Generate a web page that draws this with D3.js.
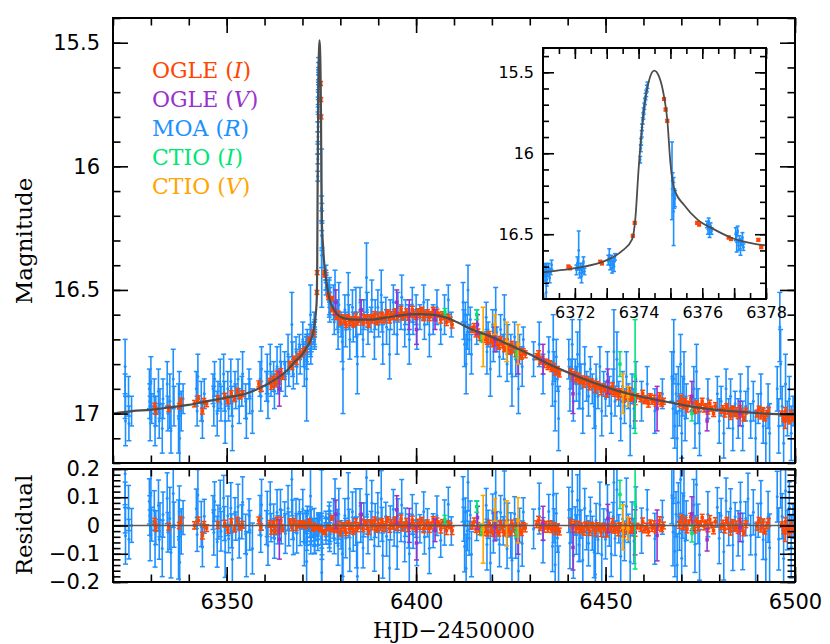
<!DOCTYPE html>
<html>
<head>
<meta charset="utf-8">
<script src="https://cdn.jsdelivr.net/npm/d3@7"></script>
<style>
body { margin: 0; background: white; }
</style>
</head>
<body>
<div id="canvas"></div>
<script>
const width = 830;
const height = 644;

// best-fit model: [HJD-2450000, mag]
const modelCurve = [
    [6320, 17.00], [6325, 16.99], [6330, 16.985], [6335, 16.975], [6340, 16.965], [6345, 16.95],
    [6350, 16.935], [6355, 16.92], [6359, 16.895], [6362, 16.87], [6364, 16.85], [6366, 16.825],
    [6368, 16.79], [6370, 16.76], [6371, 16.735], [6372, 16.71], [6373, 16.66], [6373.5, 16.6],
    [6373.8, 16.53], [6373.9, 16.4], [6374.0, 16.1], [6374.07, 15.92], [6374.18, 15.71],
    [6374.33, 15.55], [6374.49, 15.49], [6374.64, 15.525], [6374.8, 15.65], [6374.9, 15.79],
    [6375.0, 16.06], [6375.12, 16.22], [6375.43, 16.32], [6375.85, 16.41], [6376.37, 16.47],
    [6376.89, 16.52], [6377.41, 16.55], [6378, 16.57], [6379, 16.595], [6381, 16.615],
    [6384, 16.62], [6388, 16.62], [6392, 16.612], [6396, 16.603], [6400, 16.598], [6404, 16.60],
    [6408, 16.612], [6411, 16.632], [6414, 16.655], [6420, 16.69], [6425, 16.725], [6430, 16.76],
    [6435, 16.80], [6441, 16.84], [6446, 16.87], [6451, 16.897], [6456, 16.92], [6462, 16.94],
    [6467, 16.955], [6474, 16.975], [6483, 16.99], [6492, 17.0], [6500, 17.005]
];

// photometry: [HJD-2450000, mag, error]
const moaR = [
    [6323.2,16.81,0.11],[6323.2,16.93,0.09],[6323.3,17.03,0.10],[6324.1,16.93,0.08],[6324.2,17.04,0.07],[6324.9,16.99,0.06],
    [6329.6,16.90,0.08],[6329.7,16.95,0.07],[6329.8,17.02,0.09],[6330.0,16.87,0.10],[6330.2,16.98,0.06],[6330.9,16.93,0.07],
    [6331.1,17.05,0.08],[6331.3,16.99,0.06],[6332.0,16.91,0.09],[6332.2,17.03,0.07],[6332.4,16.96,0.06],[6333.0,17.06,0.10],
    [6333.2,16.94,0.08],[6334.3,16.88,0.09],[6334.5,17.00,0.07],[6335.0,16.95,0.11],[6335.3,17.07,0.09],[6335.9,16.86,0.12],
    [6336.1,16.97,0.08],[6337.3,17.02,0.14],[6337.5,16.92,0.09],[6337.6,17.10,0.12],[6338.0,16.99,0.08],[6338.5,16.94,0.06],
    [6342.0,16.90,0.07],[6342.2,16.99,0.06],[6342.4,16.85,0.09],[6343.3,16.95,0.08],[6343.6,17.03,0.07],[6344.1,16.92,0.06],
    [6346.4,16.90,0.06],[6346.6,16.97,0.08],[6346.8,16.86,0.07],[6347.5,17.00,0.09],[6347.7,16.93,0.06],[6348.3,16.88,0.10],
    [6348.5,16.96,0.07],[6349.2,16.84,0.08],[6349.4,16.93,0.06],[6349.6,17.03,0.09],[6350.3,16.90,0.07],[6350.5,16.98,0.05],
    [6351.1,16.87,0.09],[6351.3,16.95,0.06],[6351.5,17.05,0.10],[6352.2,16.89,0.06],[6352.4,16.93,0.05],[6353.0,16.86,0.08],
    [6353.3,16.97,0.07],[6354.0,16.91,0.06],[6354.2,16.84,0.09],[6355.0,16.95,0.07],[6355.2,17.02,0.08],[6355.9,16.88,0.06],
    [6356.1,16.93,0.07],[6356.8,16.99,0.09],
    [6358.8,16.86,0.07],[6359.0,16.93,0.06],[6359.2,16.82,0.09],[6360.5,16.89,0.06],[6360.7,16.84,0.08],[6360.9,16.95,0.07],
    [6361.5,16.80,0.08],[6361.7,16.88,0.05],[6362.4,16.85,0.06],[6362.6,16.91,0.07],[6363.3,16.81,0.08],[6363.5,16.87,0.05],
    [6364.2,16.79,0.07],[6364.4,16.85,0.06],[6365.3,16.80,0.05],[6365.5,16.86,0.07],[6366.2,16.76,0.08],[6366.4,16.83,0.06],
    [6367.2,16.64,0.13],[6367.4,16.78,0.07],[6367.6,16.84,0.06],[6368.3,16.75,0.06],[6368.5,16.81,0.07],[6369.2,16.73,0.05],
    [6369.4,16.78,0.06],[6370.1,16.70,0.07],[6370.3,16.76,0.05],[6370.5,16.81,0.08],[6371.1,16.86,0.17],
    [6371.03,16.72,0.03],[6371.06,16.76,0.03],[6371.09,16.70,0.02],[6371.12,16.78,0.04],[6371.15,16.74,0.02],
    [6371.18,16.71,0.03],[6371.21,16.77,0.03],[6371.24,16.73,0.02],[6371.27,16.69,0.03],
    [6372.05,16.72,0.03],[6372.08,16.68,0.04],[6372.12,16.60,0.12],[6372.15,16.74,0.03],[6372.18,16.70,0.02],
    [6372.21,16.76,0.04],[6372.24,16.71,0.03],[6372.27,16.67,0.03],[6372.30,16.73,0.02],
    [6373.05,16.66,0.03],[6373.08,16.63,0.04],[6373.11,16.69,0.03],[6373.14,16.65,0.02],[6373.17,16.71,0.03],
    [6373.20,16.67,0.02],[6373.23,16.70,0.03],[6373.26,16.64,0.02],
    [6374.05,16.04,0.02],[6374.07,15.97,0.02],[6374.08,15.93,0.02],[6374.10,15.88,0.02],[6374.11,15.84,0.02],
    [6374.13,15.80,0.02],[6374.15,15.77,0.02],[6374.16,15.74,0.02],[6374.18,15.71,0.02],[6374.20,15.68,0.02],
    [6374.22,15.65,0.02],[6374.24,15.63,0.02],[6374.26,15.60,0.02],[6374.28,15.58,0.02],
    [6375.05,16.17,0.24],[6375.07,16.17,0.05],[6375.09,16.22,0.04],[6375.10,16.36,0.21],[6375.12,16.28,0.06],[6375.14,16.28,0.05],
    [6376.15,16.44,0.02],[6376.18,16.47,0.03],[6376.20,16.42,0.02],[6376.23,16.49,0.03],[6376.26,16.45,0.02],[6376.29,16.48,0.02],
    [6377.05,16.50,0.04],[6377.08,16.55,0.06],[6377.11,16.48,0.03],[6377.14,16.57,0.03],[6377.17,16.53,0.02],
    [6377.20,16.59,0.04],[6377.23,16.55,0.02],[6377.26,16.52,0.03],[6377.29,16.58,0.02],
    [6378.2,16.55,0.07],[6378.4,16.63,0.05],[6378.6,16.50,0.08],[6379.2,16.60,0.06],[6379.4,16.67,0.07],[6379.6,16.56,0.09],
    [6380.2,16.64,0.05],[6380.5,16.71,0.08],[6380.7,16.82,0.18],[6381.2,16.58,0.06],[6381.4,16.66,0.07],[6382.1,16.52,0.09],
    [6382.3,16.61,0.05],[6382.5,16.70,0.08],[6383.2,16.57,0.07],[6383.4,16.65,0.06],[6384.1,16.59,0.10],[6384.3,16.68,0.09],
    [6384.5,16.80,0.12],[6385.2,16.55,0.06],[6385.4,16.63,0.05],[6386.0,16.70,0.07],[6386.2,16.60,0.06],[6386.9,16.45,0.14],
    [6387.1,16.58,0.07],[6387.3,16.66,0.06],[6388.1,16.62,0.05],[6388.3,16.54,0.08],[6389.0,16.69,0.09],[6389.2,16.60,0.06],
    [6389.9,16.57,0.07],[6390.1,16.64,0.05],[6390.8,16.52,0.10],[6391.0,16.61,0.06],[6391.2,16.72,0.08],[6392.0,16.58,0.05],
    [6392.2,16.65,0.07],[6393.0,16.76,0.10],[6393.2,16.60,0.06],[6394.0,16.55,0.07],[6394.2,16.63,0.05],[6395.0,16.68,0.08],
    [6395.2,16.57,0.06],[6396.0,16.61,0.05],[6396.2,16.53,0.09],[6397.0,16.66,0.07],[6397.2,16.59,0.05],[6398.0,16.62,0.06],
    [6398.2,16.70,0.10],[6399.0,16.56,0.07],[6399.2,16.63,0.05],[6400.0,16.58,0.06],[6400.2,16.66,0.08],[6401.0,16.61,0.05],
    [6402.0,16.55,0.07],[6402.2,16.64,0.06],[6403.0,16.59,0.05],[6403.5,16.68,0.09],[6404.5,16.62,0.06],
    [6405.5,16.57,0.07],[6406.5,16.66,0.06],[6407.5,16.60,0.08],[6408.5,16.54,0.06],[6409.3,16.64,0.05],
    [6412.4,16.55,0.08],[6412.6,16.64,0.06],[6412.8,16.72,0.09],[6413.0,16.60,0.05],[6413.2,16.80,0.12],[6413.5,16.67,0.07],
    [6413.7,16.50,0.10],[6414.0,16.70,0.06],[6414.3,16.62,0.05],[6414.6,16.76,0.08],[6416.0,16.65,0.07],[6418.5,16.61,0.06],
    [6418.7,16.75,0.09],[6419.0,16.68,0.05],[6419.6,16.82,0.11],[6420.2,16.64,0.06],[6420.4,16.72,0.07],[6421.0,16.58,0.09],
    [6421.3,16.70,0.05],[6422.0,16.77,0.08],[6422.3,16.66,0.06],[6423.0,16.73,0.05],[6423.3,16.62,0.10],[6424.0,16.80,0.07],
    [6424.2,16.70,0.06],[6425.0,16.76,0.08],[6425.3,16.85,0.12],[6426.0,16.69,0.06],[6426.3,16.78,0.07],[6427.0,16.90,0.10],
    [6427.3,16.74,0.06],[6428.0,16.81,0.08],[6428.3,16.70,0.05],
    [6431.0,16.78,0.07],[6432.5,16.72,0.09],[6433.5,16.84,0.08],[6435.0,16.75,0.06],[6436.0,16.88,0.09],[6436.2,16.70,0.10],
    [6436.4,16.81,0.06],[6436.7,16.95,0.12],[6437.0,16.77,0.07],[6437.3,16.86,0.05],[6437.6,17.02,0.13],
    [6440.3,16.78,0.08],[6440.6,16.90,0.09],[6440.9,16.84,0.06],[6441.2,16.72,0.10],[6441.5,16.95,0.08],[6442.0,16.83,0.05],
    [6442.3,16.88,0.07],[6442.6,16.76,0.09],[6443.0,16.92,0.06],[6443.2,16.80,0.18],[6443.5,16.85,0.05],[6444.0,16.98,0.10],
    [6444.5,16.80,0.07],[6445.0,16.89,0.06],[6445.5,16.93,0.08],[6446.0,16.82,0.05],[6446.5,16.90,0.06],[6447.0,16.97,0.09],
    [6447.3,17.05,0.16],[6447.5,16.86,0.06],[6448.0,16.93,0.05],[6448.5,16.81,0.08],[6449.0,16.99,0.10],[6449.5,16.88,0.05],
    [6450.0,16.94,0.07],[6450.5,16.84,0.09],[6451.0,16.91,0.06],[6451.5,17.00,0.08],[6452.0,16.87,0.05],[6452.2,16.75,0.17],
    [6452.5,16.95,0.06],[6453.0,16.78,0.11],[6453.5,16.92,0.05],[6454.0,17.02,0.09],[6454.5,16.89,0.06],[6455.0,16.97,0.07],
    [6455.5,16.85,0.10],[6456.0,16.93,0.05],[6456.5,17.05,0.12],[6457.0,16.90,0.06],[6457.5,16.98,0.08],[6458.0,16.86,0.07],
    [6459.5,16.95,0.08],[6461.0,16.88,0.07],[6463.0,16.99,0.09],[6465.0,16.92,0.06],
    [6467.5,16.85,0.10],[6467.8,16.98,0.12],[6468.0,16.75,0.13],[6468.3,17.05,0.09],[6468.6,16.92,0.08],[6468.9,17.10,0.11],
    [6469.2,16.88,0.07],[6469.5,16.99,0.06],[6469.8,16.80,0.12],[6470.1,17.08,0.10],[6470.4,16.93,0.08],[6470.7,16.86,0.11],
    [6471.0,17.02,0.09],[6471.3,16.95,0.07],[6473.3,16.90,0.09],[6473.6,17.04,0.10],[6474.0,16.83,0.11],[6474.4,16.97,0.07],
    [6474.8,17.08,0.09],[6477.0,16.94,0.08],[6479.5,16.92,0.07],[6480.0,17.03,0.09],[6480.5,16.95,0.06],[6481.2,17.08,0.10],
    [6481.8,16.90,0.08],[6482.5,17.00,0.06],[6483.0,16.93,0.07],[6483.6,17.06,0.09],[6484.2,16.96,0.05],[6485.0,17.02,0.08],
    [6485.6,16.91,0.07],[6486.2,17.05,0.10],[6487.0,16.97,0.06],[6487.6,16.90,0.09],[6488.3,17.03,0.07],[6489.0,16.95,0.08],
    [6489.6,17.10,0.11],[6490.3,16.98,0.06],[6491.0,16.92,0.08],[6491.6,17.05,0.07],[6492.3,17.12,0.10],[6492.9,16.97,0.09],
    [6493.3,17.08,0.12],[6495.3,16.90,0.09],[6495.7,17.05,0.11],[6496.0,16.65,0.14],[6496.2,16.80,0.14],[6496.6,16.97,0.08],
    [6497.0,17.12,0.10],[6497.5,16.88,0.12],[6498.0,17.02,0.07],[6498.5,16.94,0.09],[6499.0,17.08,0.11],[6499.5,16.99,0.06]
];

const ogleI = [
    [6331.0,16.97,0.012],[6331.3,16.99,0.013],[6334.7,16.98,0.012],[6337.5,16.97,0.011],[6337.9,16.95,0.012],
    [6341.5,16.96,0.013],[6342.5,16.94,0.012],[6343.6,16.99,0.012],[6344.0,16.95,0.011],[6344.7,16.96,0.012],
    [6347.7,16.94,0.012],[6349.5,16.93,0.012],[6350.3,16.95,0.011],[6351.2,16.92,0.012],[6352.0,16.94,0.012],
    [6352.8,16.91,0.012],[6353.5,16.93,0.011],[6354.2,16.92,0.012],[6358.5,16.88,0.012],[6359.0,16.90,0.011],
    [6361.3,16.87,0.012],[6361.8,16.89,0.012],[6362.3,16.86,0.011],[6362.8,16.88,0.012],[6363.3,16.84,0.012],
    [6363.8,16.87,0.011],[6364.3,16.83,0.012],[6364.8,16.85,0.012],[6366.7,16.80,0.011],[6367.2,16.81,0.012],
    [6367.8,16.78,0.012],[6368.4,16.79,0.011],[6369.0,16.77,0.012],[6369.6,16.76,0.011],[6370.2,16.75,0.012],
    [6370.8,16.74,0.011],[6371.80,16.70,0.008],[6371.85,16.71,0.008],[6372.80,16.67,0.008],[6372.85,16.68,0.008],
    [6373.82,16.51,0.008],[6373.88,16.43,0.008],[6374.80,15.665,0.008],[6374.85,15.73,0.008],[6374.90,15.80,0.008],
    [6375.84,16.43,0.008],[6375.90,16.44,0.008],[6376.83,16.52,0.008],[6376.90,16.53,0.008],[6377.76,16.535,0.008],
    [6377.85,16.58,0.008],
    [6378.5,16.59,0.012],[6379.0,16.61,0.010],[6379.5,16.60,0.014],[6380.0,16.63,0.012],[6380.5,16.61,0.010],
    [6381.0,16.62,0.014],[6381.5,16.64,0.012],[6382.0,16.61,0.010],[6382.5,16.63,0.014],[6383.0,16.62,0.012],
    [6383.5,16.64,0.010],[6384.0,16.61,0.014],[6384.5,16.63,0.012],[6385.0,16.62,0.010],[6385.5,16.60,0.014],
    [6386.0,16.63,0.012],[6386.5,16.61,0.010],[6387.0,16.62,0.014],[6387.5,16.64,0.012],[6388.0,16.61,0.010],
    [6388.5,16.62,0.014],[6389.0,16.60,0.012],[6389.5,16.63,0.010],[6390.0,16.61,0.014],[6390.5,16.62,0.012],
    [6391.0,16.60,0.010],[6391.5,16.62,0.014],[6392.0,16.61,0.012],[6392.5,16.59,0.010],[6393.0,16.62,0.014],
    [6393.5,16.60,0.012],[6394.0,16.61,0.010],[6394.5,16.59,0.014],[6395.0,16.61,0.012],[6395.5,16.60,0.010],
    [6396.0,16.58,0.014],[6396.5,16.61,0.012],[6397.0,16.60,0.010],[6397.5,16.59,0.014],[6398.0,16.61,0.012],
    [6398.5,16.60,0.010],[6399.0,16.58,0.014],[6399.5,16.60,0.012],[6400.0,16.61,0.010],[6400.5,16.59,0.014],
    [6401.0,16.60,0.012],[6401.5,16.58,0.010],[6402.0,16.61,0.014],[6402.5,16.60,0.012],[6403.0,16.59,0.010],
    [6403.5,16.61,0.014],[6404.0,16.60,0.012],[6404.5,16.58,0.010],[6405.0,16.61,0.014],[6405.5,16.59,0.012],
    [6406.0,16.60,0.010],[6406.5,16.62,0.014],[6407.0,16.60,0.012],[6407.5,16.61,0.010],[6408.0,16.63,0.014],
    [6408.5,16.61,0.012],[6409.0,16.62,0.010],[6409.5,16.64,0.014],
    [6414.8,16.66,0.012],[6415.3,16.65,0.014],[6415.8,16.68,0.010],[6416.3,16.67,0.012],[6416.8,16.69,0.014],
    [6417.3,16.68,0.010],[6417.8,16.70,0.012],[6418.3,16.69,0.014],[6418.8,16.71,0.010],[6419.3,16.68,0.012],
    [6419.8,16.70,0.014],[6420.3,16.72,0.010],[6420.8,16.69,0.012],[6421.3,16.71,0.014],[6421.8,16.73,0.010],
    [6422.3,16.70,0.012],[6422.8,16.72,0.014],[6423.3,16.74,0.010],[6423.8,16.71,0.012],[6424.3,16.73,0.014],
    [6424.8,16.75,0.010],[6425.3,16.72,0.012],[6425.8,16.74,0.014],[6426.3,16.76,0.010],[6426.8,16.73,0.012],
    [6427.3,16.75,0.014],[6427.8,16.77,0.010],[6428.3,16.75,0.012],[6428.8,16.76,0.014],
    [6431.8,16.77,0.012],[6432.3,16.76,0.014],[6432.8,16.79,0.010],[6433.3,16.78,0.012],[6433.8,16.80,0.014],
    [6434.3,16.79,0.010],[6434.8,16.81,0.012],[6435.3,16.80,0.014],[6435.8,16.82,0.010],[6436.3,16.81,0.012],
    [6436.8,16.83,0.014],[6437.3,16.82,0.010],[6437.8,16.84,0.012],
    [6440.8,16.83,0.012],[6441.3,16.85,0.014],[6441.8,16.84,0.010],[6442.3,16.86,0.012],[6442.8,16.85,0.014],
    [6443.3,16.87,0.010],[6443.8,16.86,0.012],[6444.3,16.88,0.014],[6444.8,16.86,0.010],[6445.3,16.87,0.012],
    [6445.8,16.89,0.014],[6446.3,16.87,0.010],[6446.8,16.88,0.012],[6447.3,16.90,0.014],[6447.8,16.88,0.010],
    [6448.3,16.89,0.012],[6448.8,16.91,0.014],[6449.3,16.89,0.010],[6449.8,16.90,0.012],[6450.3,16.92,0.014],
    [6450.8,16.90,0.010],[6451.3,16.91,0.012],[6451.8,16.89,0.014],[6452.3,16.92,0.010],[6452.8,16.91,0.012],
    [6453.3,16.93,0.014],[6453.8,16.91,0.010],[6454.3,16.92,0.012],[6454.8,16.94,0.014],[6455.3,16.92,0.010],
    [6455.8,16.93,0.012],[6456.3,16.91,0.014],[6456.8,16.94,0.010],[6457.3,16.93,0.012],[6457.8,16.95,0.014],
    [6458.3,16.93,0.010],[6459.3,16.94,0.012],[6459.8,16.92,0.014],[6460.3,16.95,0.010],[6460.8,16.94,0.012],
    [6461.3,16.96,0.014],[6461.8,16.93,0.010],[6462.3,16.95,0.012],[6462.8,16.94,0.014],[6463.3,16.96,0.010],
    [6463.8,16.95,0.012],[6464.3,16.93,0.014],[6464.8,16.96,0.010],[6465.3,16.95,0.012],
    [6469.5,16.96,0.012],[6470.0,16.94,0.014],[6470.5,16.97,0.010],[6471.0,16.95,0.012],[6471.5,16.98,0.014],
    [6472.0,16.96,0.010],[6472.5,16.94,0.012],[6473.0,16.97,0.014],[6473.5,16.99,0.010],[6474.0,16.96,0.012],
    [6474.5,16.98,0.014],[6475.0,16.97,0.010],[6475.5,16.95,0.012],[6476.0,16.98,0.014],[6476.5,16.97,0.010],
    [6477.0,16.99,0.012],[6477.5,16.96,0.014],[6478.0,16.98,0.010],[6478.5,17.00,0.012],[6479.0,16.97,0.014],
    [6480.5,16.99,0.010],[6481.0,16.98,0.012],[6481.5,17.00,0.014],[6482.0,16.97,0.010],[6482.5,16.99,0.012],
    [6483.0,17.01,0.014],[6483.5,16.98,0.010],[6484.0,17.00,0.012],[6484.5,16.99,0.014],[6485.0,17.01,0.010],
    [6485.5,16.98,0.012],[6486.0,17.00,0.014],[6486.5,17.02,0.010],[6487.0,16.99,0.012],[6490.0,17.00,0.014],
    [6490.5,16.98,0.010],[6491.0,17.01,0.012],[6491.5,16.99,0.014],[6492.0,17.02,0.010],[6492.5,17.00,0.012],
    [6493.0,16.99,0.014],[6496.5,17.00,0.010],[6497.0,17.02,0.012],[6497.4,17.03,0.030],[6497.5,16.99,0.014],
    [6498.0,17.01,0.010],[6498.5,17.03,0.012],[6499.0,17.00,0.014],[6499.5,17.02,0.010]
];

const ogleV = [
    [6363.9,16.90,0.07],[6378.8,16.55,0.05],[6385.5,16.58,0.04],[6394.9,16.55,0.05],[6398.2,16.60,0.06],
    [6400.1,16.66,0.06],[6405.0,16.62,0.04],[6416.2,16.64,0.04],[6420.8,16.70,0.05],[6426.9,16.79,0.05],
    [6433.5,16.78,0.06],[6441.4,16.92,0.08],[6450.6,16.87,0.05],[6457.8,16.95,0.08],[6463.6,16.98,0.09],
    [6472.8,16.93,0.06],[6476.8,17.03,0.04],[6485.5,17.00,0.05]
];

const ctioI = [
    [6407.6,16.59,0.015],[6416.0,16.60,0.02],[6417.3,16.69,0.02],[6426.5,16.76,0.015],
    [6453.8,16.80,0.05],[6457.8,16.85,0.23],[6472.8,17.00,0.03]
];

const ctioV = [
    [6417.7,16.69,0.12],[6420.8,16.64,0.04],[6423.9,16.71,0.08],[6426.9,16.72,0.08],
    [6454.6,16.92,0.08],[6455.9,16.93,0.04]
];

const legendNames = ["OGLE", "OGLE", "MOA", "CTIO", "CTIO"];
const legendBands = ["I", "V", "R", "I", "V"];
const legendColors = ["#ff4500", "#9932cc", "#1e90ff", "#00e676", "#ffa500"];

const magTicks = [15.5, 16, 16.5, 17];
const timeTicks = [6350, 6400, 6450, 6500];
const residTicks = [-0.2, -0.1, 0, 0.1, 0.2];
const insetTimeTicks = [6372, 6373, 6374, 6375, 6376, 6377, 6378];
const insetMagTicks = [15.5, 16, 16.5];


const svg = d3.select("#canvas")
    .append("svg")
    .attr("width", width)
    .attr("height", height);

svg.append("rect")
    .attr("width", width)
    .attr("height", height)
    .attr("fill", "white");

// scales for the three boxes
const x = d3.scaleLinear().domain([6320, 6500]).range([113, 795]);
const y = d3.scaleLinear().domain([15.4, 17.2]).range([18, 463]);
const yRes = d3.scaleLinear().domain([-0.2, 0.2]).range([582, 469]);
const xIn = d3.scaleLinear().domain([6371, 6378]).range([543, 766]);
const yIn = d3.scaleLinear().domain([15.35, 16.9]).range([48, 299]);

// model as a piecewise scale, used for the residuals
const modelAt = d3.scaleLinear()
    .domain(modelCurve.map(d => d[0]))
    .range(modelCurve.map(d => d[1]));

const sets = [
    {data: moaR, color: legendColors[2], dot: "circle"},
    {data: ogleI, color: legendColors[0], dot: "square"},
    {data: ogleV, color: legendColors[1], dot: "square"},
    {data: ctioI, color: legendColors[3], dot: "square"},
    {data: ctioV, color: legendColors[4], dot: "square"}
];

let defs = svg.append("defs");
function clip(id, x0, y0, w, h) {
    defs.append("clipPath").attr("id", id)
        .append("rect").attr("x", x0).attr("y", y0).attr("width", w).attr("height", h);
}
clip("clipMain", 113, 18, 682, 445);
clip("clipRes", 113, 469, 682, 113);
clip("clipIn", 543, 48, 223, 251);


function drawSet(g, data, color, dot, xs, ys, cap, size) {
    g.selectAll(null).data(data).enter().append("line")
        .attr("x1", d => xs(d[0])).attr("x2", d => xs(d[0]))
        .attr("y1", d => ys(d[1] - d[2])).attr("y2", d => ys(d[1] + d[2]))
        .attr("stroke", color).attr("stroke-width", 1.6);

    [-1, 1].forEach(function(s) {
        g.selectAll(null).data(data).enter().append("line")
            .attr("x1", d => xs(d[0]) - cap).attr("x2", d => xs(d[0]) + cap)
            .attr("y1", d => ys(d[1] + s * d[2])).attr("y2", d => ys(d[1] + s * d[2]))
            .attr("stroke", color).attr("stroke-width", 1.5);
    });

    if (dot === "circle") {
        g.selectAll(null).data(data).enter().append("circle")
            .attr("cx", d => xs(d[0])).attr("cy", d => ys(d[1]))
            .attr("r", size / 2).attr("fill", color);
    }
    else {
        g.selectAll(null).data(data).enter().append("rect")
            .attr("x", d => xs(d[0]) - size / 2).attr("y", d => ys(d[1]) - size / 2)
            .attr("width", size).attr("height", size).attr("fill", color);
    }
}


// main light curve
let mainG = svg.append("g").attr("clip-path", "url(#clipMain)");
sets.forEach(function(s) {
    drawSet(mainG, s.data, s.color, s.dot, x, y, 2.5, s.dot === "circle" ? 3 : 3.5);
});

mainG.append("path")
    .datum(modelCurve)
    .attr("fill", "none")
    .attr("stroke", "#4d4d4d")
    .attr("stroke-width", 2.2)
    .attr("d", d3.line().x(d => x(d[0])).y(d => y(d[1])).curve(d3.curveMonotoneX));


// residuals: model minus observed
let resG = svg.append("g").attr("clip-path", "url(#clipRes)");
sets.forEach(function(s) {
    let res = s.data.map(d => [d[0], modelAt(d[0]) - d[1], d[2]]);
    drawSet(resG, res, s.color, s.dot, x, yRes, 2.5, s.dot === "circle" ? 3 : 3.5);
});

resG.append("line")
    .attr("x1", x(6320)).attr("x2", x(6500))
    .attr("y1", yRes(0)).attr("y2", yRes(0))
    .attr("stroke", "#5a5a5a")
    .attr("stroke-width", 1.5);


// zoom on the peak
svg.append("rect")
    .attr("x", 543).attr("y", 48).attr("width", 223).attr("height", 251)
    .attr("fill", "white");

let inG = svg.append("g").attr("clip-path", "url(#clipIn)");
sets.forEach(function(s) {
    let part = s.data.filter(d => d[0] > 6370.9 && d[0] < 6378.1);
    drawSet(inG, part, s.color, s.dot, xIn, yIn, 2, s.dot === "circle" ? 2.8 : 4);
});

inG.append("path")
    .datum(modelCurve)
    .attr("fill", "none")
    .attr("stroke", "#4d4d4d")
    .attr("stroke-width", 1.8)
    .attr("d", d3.line().x(d => xIn(d[0])).y(d => yIn(d[1])).curve(d3.curveMonotoneX));


// axes, ticks pointing inward on all four sides
function ticks(axis, scale, tx, ty, values, size, fmt, fontSize, pad) {
    let a = axis(scale).tickValues(values).tickSizeInner(-size).tickSizeOuter(0);
    if (fmt) {
        a.tickFormat(fmt).tickPadding(pad);
    }
    else {
        a.tickFormat("");
    }
    let g = svg.append("g").attr("transform", `translate(${tx},${ty})`).call(a);
    g.select(".domain").remove();
    g.selectAll("line").attr("stroke", "black").attr("stroke-width", 1.6);
    g.selectAll("text")
        .attr("font-family", "DejaVu Sans")
        .attr("font-size", fontSize)
        .attr("fill", "black");
}

const fmt = d3.format("~g");
const magMinor = d3.range(15.4, 17.21, 0.1);
const timeMinor = d3.range(6320, 6501, 10);
const resMinor = d3.range(-0.2, 0.201, 0.02);

// main panel
ticks(d3.axisLeft, y, 113, 0, magMinor, 7.5);
ticks(d3.axisLeft, y, 113, 0, magTicks, 15, fmt, 21, 13);
ticks(d3.axisRight, y, 795, 0, magMinor, 7.5);
ticks(d3.axisRight, y, 795, 0, magTicks, 15);
ticks(d3.axisTop, x, 0, 18, timeMinor, 7.5);
ticks(d3.axisTop, x, 0, 18, timeTicks, 15);
ticks(d3.axisBottom, x, 0, 463, timeMinor, 7.5);
ticks(d3.axisBottom, x, 0, 463, timeTicks, 15);

// residual panel
ticks(d3.axisLeft, yRes, 113, 0, resMinor, 7.5);
ticks(d3.axisLeft, yRes, 113, 0, residTicks, 15, fmt, 21, 13);
ticks(d3.axisRight, yRes, 795, 0, resMinor, 7.5);
ticks(d3.axisRight, yRes, 795, 0, residTicks, 15);
ticks(d3.axisTop, x, 0, 469, timeMinor, 7.5);
ticks(d3.axisTop, x, 0, 469, timeTicks, 15);
ticks(d3.axisBottom, x, 0, 582, timeMinor, 7.5);
ticks(d3.axisBottom, x, 0, 582, timeTicks, 15, fmt, 21, 12);

// inset
const inMagMinor = d3.range(15.4, 16.9, 0.1);
const inTimeMinor = d3.range(6371, 6378.01, 0.5);
ticks(d3.axisLeft, yIn, 543, 0, inMagMinor, 6);
ticks(d3.axisLeft, yIn, 543, 0, insetMagTicks, 11, fmt, 16, 9);
ticks(d3.axisRight, yIn, 766, 0, inMagMinor, 6);
ticks(d3.axisRight, yIn, 766, 0, insetMagTicks, 11);
ticks(d3.axisTop, xIn, 0, 48, inTimeMinor, 6);
ticks(d3.axisTop, xIn, 0, 48, insetTimeTicks, 11);
ticks(d3.axisBottom, xIn, 0, 299, inTimeMinor, 6);
ticks(d3.axisBottom, xIn, 0, 299, insetTimeTicks, 11, d => d % 2 === 0 ? fmt(d) : "", 16, 8);

// frames
[[113, 18, 682, 445], [113, 469, 682, 113], [543, 48, 223, 251]].forEach(function(b) {
    svg.append("rect")
        .attr("x", b[0]).attr("y", b[1]).attr("width", b[2]).attr("height", b[3])
        .attr("fill", "none")
        .attr("stroke", "black")
        .attr("stroke-width", 2);
});


// axis titles
svg.append("text")
    .attr("transform", "translate(32,241) rotate(-90)")
    .attr("text-anchor", "middle")
    .attr("font-family", "DejaVu Serif")
    .attr("font-size", 23)
    .text("Magnitude");

svg.append("text")
    .attr("transform", "translate(32,525) rotate(-90)")
    .attr("text-anchor", "middle")
    .attr("font-family", "DejaVu Serif")
    .attr("font-size", 23)
    .text("Residual");

svg.append("text")
    .attr("x", 454)
    .attr("y", 638)
    .attr("text-anchor", "middle")
    .attr("font-family", "DejaVu Serif")
    .attr("font-size", 22)
    .text("HJD\u22122450000");


// legend
for (let i = 0; i < legendNames.length; i++) {
    let t = svg.append("text")
        .attr("x", 152)
        .attr("y", 77.5 + i * 29.2)
        .attr("font-family", "DejaVu Serif")
        .attr("font-size", 22)
        .attr("fill", legendColors[i]);
    t.append("tspan").text(legendNames[i] + " (");
    t.append("tspan").attr("font-style", "italic").text(legendBands[i]);
    t.append("tspan").text(")");
}
</script>
</body>
</html>
